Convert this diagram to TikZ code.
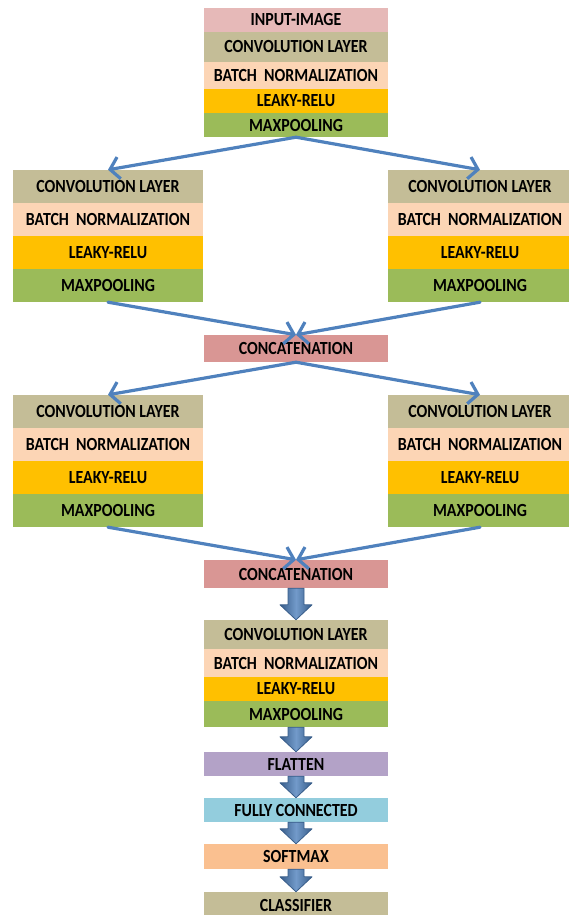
\documentclass[tikz,border=0pt]{standalone}
\usepackage{fontspec}
\setmainfont{Carlito}
\newfontfamily\layerfont{Carlito}[FakeStretch=0.86]
\usetikzlibrary{arrows.meta,calc}

% layer colours
\definecolor{inputcol}{HTML}{E6B9B8}
\definecolor{convcol}{HTML}{C4BD97}
\definecolor{bncol}{HTML}{FCD5B5}
\definecolor{relucol}{HTML}{FFC000}
\definecolor{poolcol}{HTML}{9BBB59}
\definecolor{concatcol}{HTML}{D99694}
\definecolor{flatcol}{HTML}{B3A2C7}
\definecolor{fccol}{HTML}{93CDDD}
\definecolor{softcol}{HTML}{FAC090}
\definecolor{arrowcol}{HTML}{4F81BD}
\definecolor{arrowedge}{HTML}{385D8A}

\tikzset{
  layer/.style={rectangle, inner sep=0pt, minimum width=184pt,
    font=\layerfont\bfseries\fontsize{18.5}{20}\selectfont, text=black},
  link/.style={draw=arrowcol, line width=3.2pt, line cap=round,
    -{Straight Barb[length=9pt,width=22pt]}},
  fatarrow/.style={draw=arrowedge, line width=0.8pt, line join=round,
    left color=arrowedge, right color=arrowedge, middle color=arrowcol!80!white},
}

% block arrow from the south of #1 to the north of #2
\newcommand{\blockarrow}[2]{%
  \path[fatarrow] let \p1=(#1.south), \p2=(#2.north) in
    (\x1-8pt,\y1) -- (\x1-8pt,\y2+15pt) -- (\x1-16pt,\y2+15pt) -- (\x1,\y2)
    -- (\x1+16pt,\y2+15pt) -- (\x1+8pt,\y2+15pt) -- (\x1+8pt,\y1) -- cycle;}

\begin{document}
\begin{tikzpicture}[x=1pt, y=-1pt]
  \useasboundingbox (0,0) rectangle (569,915);

  % Input stage
  \node[layer, fill=inputcol, minimum height=24pt] (input) at (296,20) {INPUT-IMAGE};
  \node[layer, fill=convcol, minimum height=30pt] (conv0) at (296,47) {CONVOLUTION LAYER};
  \node[layer, fill=bncol, minimum height=27pt] (bn0) at (296,75.5) {BATCH\ \ NORMALIZATION};
  \node[layer, fill=relucol, minimum height=24pt] (relu0) at (296,101) {LEAKY-RELU};
  \node[layer, fill=poolcol, minimum height=24pt] (pool0) at (296,125) {MAXPOOLING};

  % Concatenation nodes
  \node[layer, fill=concatcol, minimum height=27pt] (cat1) at (296,348.5) {CONCATENATION};
  \node[layer, fill=concatcol, minimum height=28pt] (cat2) at (296,574) {CONCATENATION};

  % Two parallel branches, twice
  \foreach \side/\cx/\w in {l/108/190, r/480/184} {
    % first branch level
    \node[layer, fill=convcol, minimum height=33pt, minimum width=\w] (conv1\side) at (\cx,186.5) {CONVOLUTION LAYER};
    \node[layer, fill=bncol, minimum height=33pt, minimum width=\w] (bn1\side) at (\cx,219.5) {BATCH\ \ NORMALIZATION};
    \node[layer, fill=relucol, minimum height=33pt, minimum width=\w] (relu1\side) at (\cx,252.5) {LEAKY-RELU};
    \node[layer, fill=poolcol, minimum height=33pt, minimum width=\w] (pool1\side) at (\cx,285.5) {MAXPOOLING};
    % second branch level
    \node[layer, fill=convcol, minimum height=33pt, minimum width=\w] (conv2\side) at (\cx,411.5) {CONVOLUTION LAYER};
    \node[layer, fill=bncol, minimum height=33pt, minimum width=\w] (bn2\side) at (\cx,444.5) {BATCH\ \ NORMALIZATION};
    \node[layer, fill=relucol, minimum height=33pt, minimum width=\w] (relu2\side) at (\cx,477.5) {LEAKY-RELU};
    \node[layer, fill=poolcol, minimum height=33pt, minimum width=\w] (pool2\side) at (\cx,510.5) {MAXPOOLING};
    % split and merge arrows
    \draw[link] (pool0.south) -- (conv1\side.north);
    \draw[link] (pool1\side.south) -- (cat1.north);
    \draw[link] (cat1.south) -- (conv2\side.north);
    \draw[link] (pool2\side.south) -- (cat2.north);
  }

  % Final stage
  \node[layer, fill=convcol, minimum height=29pt] (conv3) at (296,634.5) {CONVOLUTION LAYER};
  \node[layer, fill=bncol, minimum height=28pt] (bn3) at (296,663) {BATCH\ \ NORMALIZATION};
  \node[layer, fill=relucol, minimum height=24pt] (relu3) at (296,689) {LEAKY-RELU};
  \node[layer, fill=poolcol, minimum height=26pt] (pool3) at (296,714) {MAXPOOLING};
  \node[layer, fill=flatcol, minimum height=24pt] (flat) at (296,764) {FLATTEN};
  \node[layer, fill=fccol, minimum height=24pt] (fc) at (296,810) {FULLY CONNECTED};
  \node[layer, fill=softcol, minimum height=25pt] (soft) at (296,856.5) {SOFTMAX};
  \node[layer, fill=convcol, minimum height=26pt] (cls) at (296,905) {CLASSIFIER};

  % Block arrows
  \blockarrow{cat2}{conv3}
  \blockarrow{pool3}{flat}
  \blockarrow{flat}{fc}
  \blockarrow{fc}{soft}
  \blockarrow{soft}{cls}
\end{tikzpicture}
\end{document}
